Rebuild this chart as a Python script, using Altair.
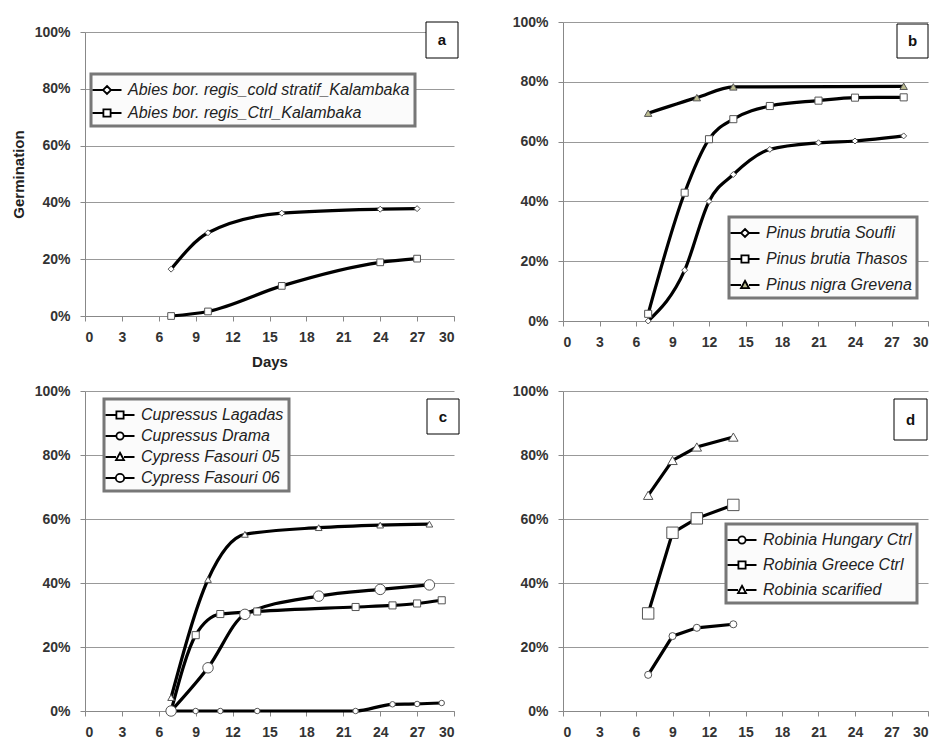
import altair as alt
import pandas as pd

FONT = "Liberation Sans"

# ---------------- data ----------------
# panel a
a_names = ["Abies bor. regis_cold stratif_Kalambaka", "Abies bor. regis_Ctrl_Kalambaka"]
a_days = [[7, 10, 16, 24, 27], [7, 10, 16, 24, 27]]
a_vals = [[0.165, 0.293, 0.362, 0.376, 0.378], [0.0, 0.016, 0.106, 0.189, 0.202]]

# panel b
b_names = ["Pinus brutia Soufli", "Pinus brutia Thasos", "Pinus nigra Grevena"]
b_days = [[7, 10, 12, 14, 17, 21, 24, 28], [7, 10, 12, 14, 17, 21, 24, 28], [7, 11, 14, 28]]
b_vals = [[0.0, 0.17, 0.40, 0.49, 0.574, 0.596, 0.602, 0.619],
          [0.024, 0.429, 0.608, 0.675, 0.719, 0.737, 0.747, 0.748],
          [0.695, 0.747, 0.783, 0.785]]

# panel c
c_names = ["Cupressus Lagadas", "Cupressus Drama", "Cypress Fasouri 05", "Cypress Fasouri 06"]
c_days = [[7, 9, 11, 14, 22, 25, 27, 29], [7, 9, 11, 14, 22, 25, 27, 29],
          [7, 10, 13, 19, 24, 28], [7, 10, 13, 19, 24, 28]]
c_vals = [[0.0, 0.237, 0.303, 0.311, 0.325, 0.33, 0.336, 0.346],
          [0.0, 0.0, 0.0, 0.0, 0.0, 0.021, 0.022, 0.025],
          [0.042, 0.411, 0.552, 0.573, 0.581, 0.584],
          [0.0, 0.135, 0.302, 0.359, 0.38, 0.394]]

# panel d
d_names = ["Robinia Hungary Ctrl", "Robinia Greece Ctrl", "Robinia scarified"]
d_days = [[7, 9, 11, 14], [7, 9, 11, 14], [7, 9, 11, 14]]
d_vals = [[0.113, 0.234, 0.26, 0.271], [0.305, 0.557, 0.602, 0.644], [0.674, 0.783, 0.825, 0.856]]

x_ticks = [0, 3, 6, 9, 12, 15, 18, 21, 24, 27, 30]
y_ticks = [0, 0.2, 0.4, 0.6, 0.8, 1.0]

# legend symbol paths (line - marker - line)
LINE = "M-1.45,0H-0.4M0.4,0H1.45"
LP = {
    "diamond": LINE + "M0,-0.4L0.4,0L0,0.4L-0.4,0Z",
    "square": LINE + "M-0.36,-0.36H0.36V0.36H-0.36Z",
    "triangle": LINE + "M0,-0.42L0.4,0.32L-0.4,0.32Z",
    "circle": LINE + "M-0.36,0A0.36,0.36 0 1,1 0.36,0A0.36,0.36 0 1,1 -0.36,0Z",
    "bigcircle": LINE + "M-0.42,0A0.42,0.42 0 1,1 0.42,0A0.42,0.42 0 1,1 -0.42,0Z",
}
OLIVE = "#bcbc90"


def panel(names, days, vals, shapes, sizes, fills, legpaths, width, height,
          leg_x, leg_y, row_pad, box, label, yrange=None, xtitle=None, ytitle=None,
          interp="monotone"):
    rows = []
    for n, ds, vs in zip(names, days, vals):
        for d, v in zip(ds, vs):
            rows.append({"series": n, "day": d, "g": v})
    df = pd.DataFrame(rows)
    base = alt.Chart(df)

    yscale = alt.Scale(domain=[0, 1], nice=False, zero=False)
    if yrange is not None:
        yscale = alt.Scale(domain=[0, 1], nice=False, zero=False, range=yrange)
    xenc = alt.X("day:Q", scale=alt.Scale(domain=[0, 30], nice=False),
                 axis=alt.Axis(values=x_ticks, grid=False, labelPadding=9, titlePadding=10),
                 title=xtitle)
    yenc = alt.Y("g:Q", scale=yscale,
                 axis=alt.Axis(values=y_ticks, format="%", grid=True, labelPadding=10,
                               titlePadding=8),
                 title=ytitle)

    layers = [base.mark_line(interpolate=interp, color="black", strokeWidth=3.2).encode(
        x=xenc, y=yenc, detail="series:N", order="day:Q")]
    for n, sh, sz, fl in zip(names, shapes, sizes, fills):
        layers.append(base.transform_filter(alt.datum.series == n).mark_point(
            shape=sh, size=sz, filled=True, fill=fl, stroke="#555", strokeWidth=1, opacity=1
        ).encode(x=xenc, y=yenc))

    leg = alt.Legend(orient="none", legendX=leg_x, legendY=leg_y, rowPadding=row_pad, title=None)
    layers.append(base.transform_filter("false").mark_point(
        size=400, filled=True, opacity=1, stroke="black", strokeWidth=1.8
    ).encode(
        shape=alt.Shape("series:N", scale=alt.Scale(domain=names, range=legpaths), legend=leg),
        fill=alt.Fill("series:N", scale=alt.Scale(domain=names, range=fills), legend=leg),
        stroke=alt.Stroke("series:N", scale=alt.Scale(domain=names, range=["black"] * len(names)),
                          legend=leg),
    ))

    lab = alt.Chart(pd.DataFrame({"t": [label]}))
    x1, x2, y1, y2 = box
    layers.append(lab.mark_rect(fill="white", stroke="black", strokeWidth=1).encode(
        x=alt.value(x1), x2=alt.value(x2), y=alt.value(y1), y2=alt.value(y2)))
    layers.append(lab.mark_text(font=FONT, fontWeight="bold", fontSize=15, color="#111").encode(
        x=alt.value((x1 + x2) / 2), y=alt.value((y1 + y2) / 2), text="t:N"))
    return alt.layer(*layers).properties(width=width, height=height)


pa = panel(a_names, a_days, a_vals, ["diamond", "square"], [36, 45], ["white", "white"],
           [LP["diamond"], LP["square"]], 369, 294, 6, 52, 4, (341, 373, 0, 36), "a",
           yrange=[294, 10], xtitle="Days", ytitle="Germination")
pb = panel(b_names, b_days, b_vals, ["diamond", "square", "triangle-up"], [36, 50, 55],
           ["white", "white", OLIVE], [LP["diamond"], LP["square"], LP["triangle"]],
           365, 299, 166, 195, 7, (334, 365, 2, 36), "b")
pc = panel(c_names, c_days, c_vals, ["square", "circle", "triangle-up", "circle"], [50, 30, 45, 110],
           ["white", "white", "white", "white"],
           [LP["square"], LP["circle"], LP["triangle"], LP["bigcircle"]],
           369, 320, 19, 8, 2, (342, 374, 8, 43), "c")
pd_ = panel(d_names, d_days, d_vals, ["circle", "square", "triangle-up"], [50, 130, 90],
            ["white", "white", "white"], [LP["circle"], LP["square"], LP["triangle"]],
            365, 320, 163, 133, 6, (331, 364, 8, 49), "d", interp="linear")

chart = alt.concat(pa, pb, pc, pd_, columns=2, spacing={"row": 70, "column": 109}).resolve_scale(
    shape="independent", fill="independent", stroke="independent"
).resolve_legend(shape="independent", fill="independent", stroke="independent").properties(
    bounds="flush", align="each", padding={"left": 10, "top": 14, "right": 0, "bottom": 0}
).configure_axis(
    labelFont=FONT, labelFontWeight="bold", labelFontSize=14, labelColor="#333",
    titleFont=FONT, titleFontWeight="bold", titleFontSize=15, titleColor="#222",
    domainColor="#888", tickColor="#888", gridColor="#999", tickSize=5,
).configure_legend(
    labelFont=FONT, labelFontStyle="italic", labelFontSize=16, labelColor="#222",
    labelLimit=400, fillColor="#fbfbfb", strokeColor="#777", strokeWidth=3, padding=5,
    symbolSize=400, symbolStrokeWidth=1.8, symbolStrokeColor="black", labelOffset=10,
).configure_view(stroke="transparent")

chart.save("out.html", embed_options={"renderer": "svg", "actions": False})
